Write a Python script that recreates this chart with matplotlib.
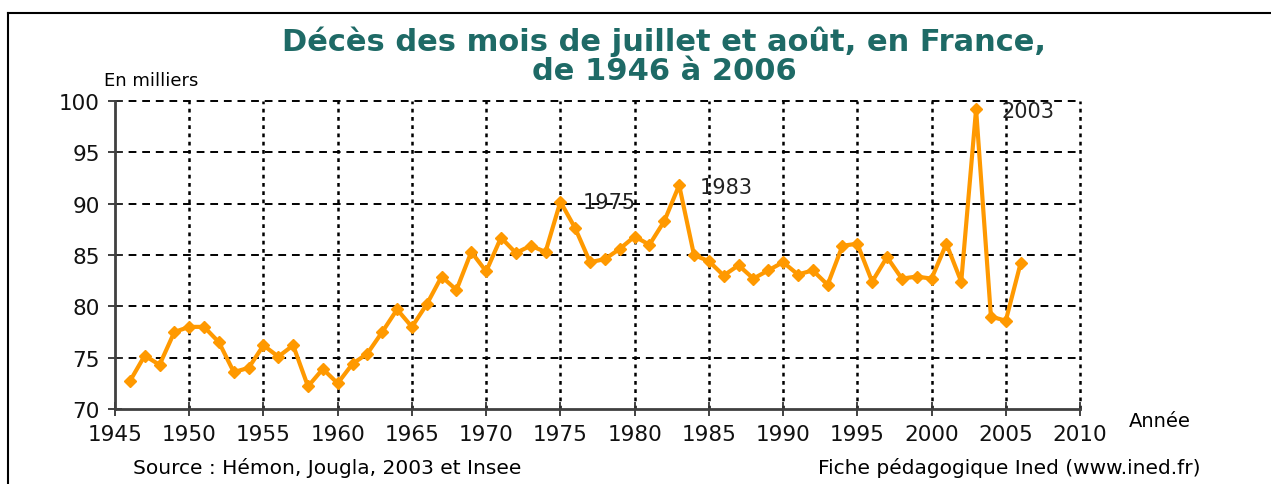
import matplotlib.pyplot as plt
from matplotlib.lines import Line2D

# Décès de juillet-août en France (milliers)
years = list(range(1946, 2007))
deaths = [
    72.7, 75.2, 74.3, 77.5, 78.0, 78.0, 76.5, 73.6, 74.0, 76.2,
    75.1, 76.2, 72.2, 73.9, 72.5, 74.4, 75.4, 77.5, 79.7, 78.0,
    80.2, 82.9, 81.6, 85.3, 83.4, 86.7, 85.2, 85.9, 85.3, 90.2,
    87.6, 84.3, 84.6, 85.6, 86.8, 86.0, 88.3, 91.8, 85.0, 84.4,
    83.0, 84.0, 82.7, 83.5, 84.3, 83.1, 83.5, 82.1, 85.9, 86.1,
    82.4, 84.8, 82.7, 82.9, 82.7, 86.1, 82.4, 99.2, 79.0, 78.6,
    84.2,
]
x_ticks = list(range(1945, 2011, 5))
y_ticks = list(range(70, 101, 5))
labelled = {1975: (16, -0.5), 1983: (15, -1.5), 2003: (18, -1.5)}

orange = "#FF9900"
teal = "#1E6A66"
plt.rcParams["font.family"] = ["DejaVu Sans"]

fig = plt.figure(figsize=(12.71, 4.85), dpi=100)
W, H = 1271, 485
ax = fig.add_axes([115 / W, 1 - 410 / H, (1080 - 115) / W, (410 - 102) / H])

ax.plot(years, deaths, color=orange, lw=3, marker="D", ms=6.5,
        mec=orange, mfc=orange, zorder=5, clip_on=False)

ax.set_xlim(1945, 2010)
ax.set_ylim(70, 100)
ax.set_xticks(x_ticks)
ax.set_yticks(y_ticks)
ax.tick_params(labelsize=15.5, direction="inout", length=10, width=1.3,
               color="#333333", pad=6, labelcolor="#111111")

# grille : tirets horizontaux, pointillés verticaux
for v in y_ticks[1:]:
    ax.axhline(v, color="black", lw=1.4, ls=(0, (4, 3)), zorder=1, clip_on=False)
for v in x_ticks[1:]:
    ax.axvline(v, color="black", lw=1.8, ls=(0, (1.5, 1.8)), zorder=1, clip_on=False)

for side in ("top", "right"):
    ax.spines[side].set_visible(False)
for side in ("left", "bottom"):
    ax.spines[side].set_color("#404040")
    ax.spines[side].set_linewidth(2)

for yr, off in labelled.items():
    v = deaths[years.index(yr)]
    ax.annotate(str(yr), (yr, v), xytext=off, textcoords="offset points",
                fontsize=15, color="#222222", va="center", ha="left", zorder=6)

fig.text(664 / W, 1 - 42 / H, "Décès des mois de juillet et août, en France,",
         ha="center", va="center", fontsize=22, fontweight="bold", color=teal)
fig.text(664 / W, 1 - 71 / H, "de 1946 à 2006",
         ha="center", va="center", fontsize=22, fontweight="bold", color=teal)
fig.text(104 / W, 1 - 81 / H, "En milliers", ha="left", va="center",
         fontsize=13, color="black")
fig.text(1129 / W, 1 - 422 / H, "Année", ha="left", va="center",
         fontsize=14, color="black")
fig.text(133 / W, 1 - 468 / H, "Source : Hémon, Jougla, 2003 et Insee",
         ha="left", va="center", fontsize=14.5, color="black")
fig.text(1200 / W, 1 - 468 / H, "Fiche pédagogique Ined (www.ined.fr)",
         ha="right", va="center", fontsize=14.5, color="black")

# cadre de la figure
fig.add_artist(Line2D([8 / W, 1.0], [1 - 14 / H, 1 - 14 / H],
                      transform=fig.transFigure, color="black", lw=1.5))
fig.add_artist(Line2D([8 / W, 8 / W], [1 - 14 / H, 0.0],
                      transform=fig.transFigure, color="black", lw=1.5))

fig.savefig("out.png", dpi=100)
